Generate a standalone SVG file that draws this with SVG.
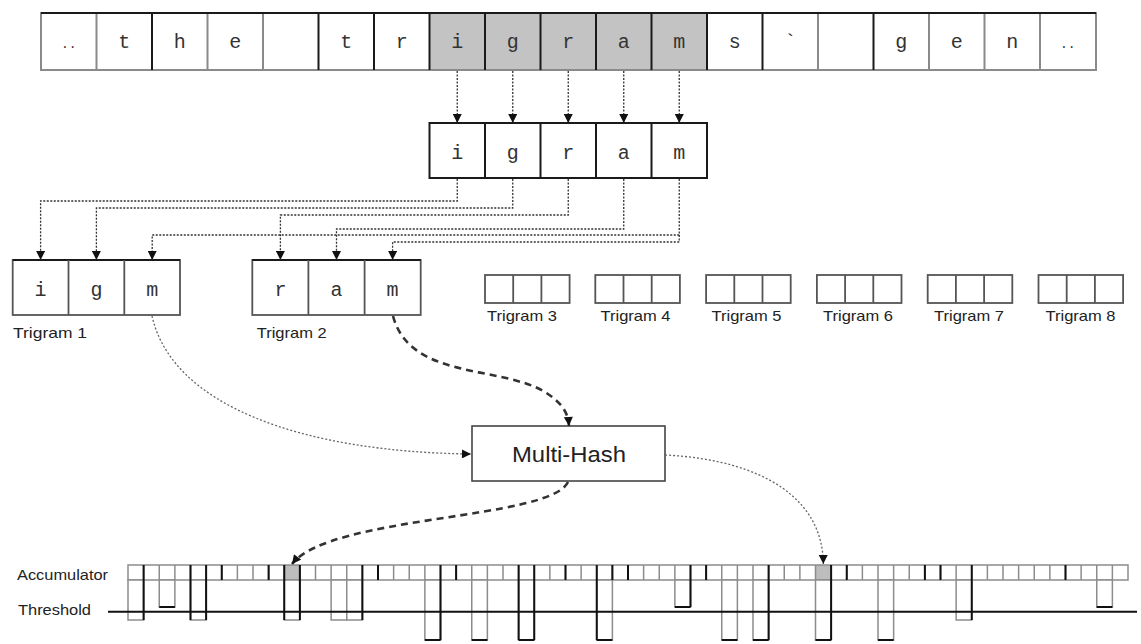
<svg xmlns="http://www.w3.org/2000/svg" width="1141" height="644" viewBox="0 0 1141 644">
<defs>
<marker id="ah" viewBox="0 0 10 10" refX="10" refY="5" markerWidth="10" markerHeight="9" markerUnits="userSpaceOnUse" orient="auto">
<path d="M0,0 L10,5 L0,10 z" fill="#111"/>
</marker>
<style>
.mono{font-family:"Liberation Mono","Courier New",monospace;font-size:20px;fill:#333;text-anchor:middle}
.lab{font-family:"Liberation Sans",Arial,sans-serif;font-size:15px;fill:#222}
.lt{stroke:#8a8a8a;stroke-width:2;fill:none}
.dk{stroke:#1a1a1a;stroke-width:2;fill:none}
.cellbox{fill:#fff;stroke:#555;stroke-width:1.8}
.dot{fill:none;stroke:#333;stroke-width:1.3;stroke-dasharray:2 1.5}
.dotc{fill:none;stroke:#666;stroke-width:1.3;stroke-dasharray:2 2}
.dash{fill:none;stroke:#333;stroke-width:2.6;stroke-dasharray:7 5}
.acc{stroke:#8c8c8c;stroke-width:1.5;fill:none}
.accd{stroke:#111;stroke-width:2;fill:none}
.bar{fill:#fff;stroke:#8c8c8c;stroke-width:1.5}
</style>
</defs>
<rect width="1141" height="644" fill="#fff"/>

<g id="sentence">
<rect x="41" y="13" width="1055" height="57" fill="#fff"/>
<rect x="429.5" y="13" width="277.5" height="57" fill="#c3c3c3"/>
<rect x="41" y="13" width="1055" height="57" class="lt"/>
<path class="lt" d="M96.5,13V70 M207.5,13V70 M263,13V70 M818,13V70 M929,13V70 M984.5,13V70 M1040,13V70"/>
<path class="dk" d="M152,13V70 M318.5,13V70 M374,13V70 M429.5,13V70 M485,13V70 M540.5,13V70 M596,13V70 M651.5,13V70 M707,13V70 M762.5,13V70 M873.5,13V70"/>
<path class="dk" d="M41,13H1096"/>
<text class="mono" x="68.75" y="48" style="font-size:13px">..</text>
<text class="mono" x="124.25" y="48">t</text>
<text class="mono" x="179.75" y="48">h</text>
<text class="mono" x="235.25" y="48">e</text>
<text class="mono" x="346.25" y="48">t</text>
<text class="mono" x="401.75" y="48">r</text>
<text class="mono" x="457.25" y="48">i</text>
<text class="mono" x="512.75" y="48">g</text>
<text class="mono" x="568.25" y="48">r</text>
<text class="mono" x="623.75" y="48">a</text>
<text class="mono" x="679.25" y="48">m</text>
<text class="mono" x="734.75" y="48">s</text>
<text class="mono" x="790.25" y="48">`</text>
<text class="mono" x="901.25" y="48">g</text>
<text class="mono" x="956.75" y="48">e</text>
<text class="mono" x="1012.25" y="48">n</text>
<text class="mono" x="1067.75" y="48" style="font-size:13px">..</text>
</g>

<g id="igram">
<rect x="429.5" y="123" width="277.5" height="55" fill="#fff" class="dk"/>
<path class="dk" d="M485,123V178 M540.5,123V178 M596,123V178 M651.5,123V178"/>
<text class="mono" x="457.25" y="159">i</text>
<text class="mono" x="512.75" y="159">g</text>
<text class="mono" x="568.25" y="159">r</text>
<text class="mono" x="623.75" y="159">a</text>
<text class="mono" x="679.25" y="159">m</text>
</g>

<g id="trigram1">
<rect x="12.7" y="260" width="167.3" height="55" class="cellbox"/>
<path d="M12.7,260H180" class="dk"/>
<path d="M68.5,260V315 M124.3,260V315" class="cellbox"/>
<text class="mono" x="40.6" y="296">i</text>
<text class="mono" x="96.4" y="296">g</text>
<text class="mono" x="152.2" y="296">m</text>
<text class="lab" x="13" y="338" textLength="74" lengthAdjust="spacingAndGlyphs">Trigram 1</text>
</g>

<g id="trigram2">
<rect x="252.3" y="260" width="168.4" height="55" class="cellbox"/>
<path d="M252.3,260H420.7" class="dk"/>
<path d="M308.4,260V315 M364.6,260V315" class="cellbox"/>
<text class="mono" x="280.4" y="296">r</text>
<text class="mono" x="336.5" y="296">a</text>
<text class="mono" x="392.6" y="296">m</text>
<text class="lab" x="256.7" y="338" textLength="70" lengthAdjust="spacingAndGlyphs">Trigram 2</text>
</g>

<g id="trigram3">
<rect x="485" y="275" width="84.6" height="28" class="cellbox"/>
<path d="M513.2,275V303 M541.4,275V303" class="cellbox"/>
<text class="lab" x="487" y="321" textLength="70" lengthAdjust="spacingAndGlyphs">Trigram 3</text>
</g>
<g id="trigram4">
<rect x="595.3" y="275" width="84.6" height="28" class="cellbox"/>
<path d="M623.5,275V303 M651.7,275V303" class="cellbox"/>
<text class="lab" x="600.5" y="321" textLength="70" lengthAdjust="spacingAndGlyphs">Trigram 4</text>
</g>
<g id="trigram5">
<rect x="706.1" y="275" width="84.6" height="28" class="cellbox"/>
<path d="M734.3,275V303 M762.5,275V303" class="cellbox"/>
<text class="lab" x="711.5" y="321" textLength="70" lengthAdjust="spacingAndGlyphs">Trigram 5</text>
</g>
<g id="trigram6">
<rect x="816.9" y="275" width="84.6" height="28" class="cellbox"/>
<path d="M845.1,275V303 M873.3,275V303" class="cellbox"/>
<text class="lab" x="823" y="321" textLength="70" lengthAdjust="spacingAndGlyphs">Trigram 6</text>
</g>
<g id="trigram7">
<rect x="927.7" y="275" width="84.6" height="28" class="cellbox"/>
<path d="M955.9,275V303 M984.1,275V303" class="cellbox"/>
<text class="lab" x="934" y="321" textLength="70" lengthAdjust="spacingAndGlyphs">Trigram 7</text>
</g>
<g id="trigram8">
<rect x="1038.5" y="275" width="84.6" height="28" class="cellbox"/>
<path d="M1066.7,275V303 M1094.9,275V303" class="cellbox"/>
<text class="lab" x="1045.5" y="321" textLength="70" lengthAdjust="spacingAndGlyphs">Trigram 8</text>
</g>

<g id="multihash">
<rect x="472" y="426" width="193" height="55" fill="#fff" stroke="#444" stroke-width="1.6"/>
<text x="569" y="462" text-anchor="middle" style="font-family:'Liberation Sans',Arial,sans-serif;font-size:22px;fill:#222" textLength="114" lengthAdjust="spacingAndGlyphs">Multi-Hash</text>
</g>

<g id="accumulator">
<text class="lab" x="17" y="580" textLength="91" lengthAdjust="spacingAndGlyphs">Accumulator</text>
<text class="lab" x="18" y="615" textLength="73" lengthAdjust="spacingAndGlyphs">Threshold</text>
<rect x="128" y="565" width="1000" height="15" fill="#fff"/>
<rect x="284.25" y="565" width="15.625" height="15" fill="#bdbdbd"/>
<rect x="815.5" y="565" width="15.625" height="15" fill="#bdbdbd"/>
<path class="acc" d="M143.625,565V580 M159.25,565V580 M174.875,565V580 M190.5,565V580 M206.125,565V580 M221.75,565V580 M237.375,565V580 M253,565V580 M268.625,565V580 M284.25,565V580 M299.875,565V580 M315.5,565V580 M331.125,565V580 M346.75,565V580 M362.375,565V580 M378,565V580 M393.625,565V580 M409.25,565V580 M424.875,565V580 M440.5,565V580 M456.125,565V580 M471.75,565V580 M487.375,565V580 M503,565V580 M518.625,565V580 M534.25,565V580 M549.875,565V580 M565.5,565V580 M581.125,565V580 M596.75,565V580 M612.375,565V580 M628,565V580 M643.625,565V580 M659.25,565V580 M674.875,565V580 M690.5,565V580 M706.125,565V580 M721.75,565V580 M737.375,565V580 M753,565V580 M768.625,565V580 M784.25,565V580 M799.875,565V580 M815.5,565V580 M831.125,565V580 M846.75,565V580 M862.375,565V580 M878,565V580 M893.625,565V580 M909.25,565V580 M924.875,565V580 M940.5,565V580 M956.125,565V580 M971.75,565V580 M987.375,565V580 M1003,565V580 M1018.625,565V580 M1034.25,565V580 M1049.875,565V580 M1065.5,565V580 M1081.125,565V580 M1096.75,565V580 M1112.375,565V580"/>
<rect x="128" y="565" width="1000" height="15" class="acc"/>
<g id="bars">
<rect class="bar" x="128" y="580" width="15.625" height="40"/>
<rect class="bar" x="159.25" y="580" width="15.625" height="27"/>
<rect class="bar" x="190.5" y="580" width="15.625" height="40"/>
<rect class="bar" x="284.25" y="580" width="15.625" height="40"/>
<rect class="bar" x="331.125" y="580" width="15.625" height="40"/>
<rect class="bar" x="346.75" y="580" width="15.625" height="40"/>
<rect class="bar" x="424.875" y="580" width="15.625" height="60"/>
<rect class="bar" x="471.75" y="580" width="15.625" height="60"/>
<rect class="bar" x="518.625" y="580" width="15.625" height="60"/>
<rect class="bar" x="596.75" y="580" width="15.625" height="60"/>
<rect class="bar" x="674.875" y="580" width="15.625" height="27"/>
<rect class="bar" x="721.75" y="580" width="15.625" height="60"/>
<rect class="bar" x="753" y="580" width="15.625" height="60"/>
<rect class="bar" x="815.5" y="580" width="15.625" height="60"/>
<rect class="bar" x="878" y="580" width="15.625" height="60"/>
<rect class="bar" x="956.125" y="580" width="15.625" height="40"/>
<rect class="bar" x="1096.75" y="580" width="15.625" height="27"/>
</g>
<path class="accd" d="M143.625,565V620 M190.5,565V620 M206.125,565V620 M284.25,565V620 M299.875,565V620 M362.375,565V620 M440.5,565V640 M518.625,565V640 M534.25,565V640 M596.75,565V640 M690.5,565V607 M768.625,565V640 M831.125,565V640 M971.75,565V620"/>
<path class="accd" d="M221.75,565V580 M268.625,565V580 M378,565V580 M456.125,565V580 M565.5,565V580 M612.375,565V580 M628,565V580 M706.125,565V580 M846.75,565V580 M924.875,565V580 M940.5,565V580 M1065.5,565V580"/>
<path class="accd" d="M159.25,607H174.875 M674.875,607H690.5 M1096.75,607H1112.375 M424.875,640H440.5 M471.75,640H487.375 M518.625,640H534.25 M596.75,640H612.375 M721.75,640H737.375 M753,640H768.625 M815.5,640H831.125 M878,640H893.625"/>
<path d="M108,611.7H1137" stroke="#111" stroke-width="2"/>
</g>

<g id="connectors">
<path class="dot" d="M457.25,71V123" marker-end="url(#ah)"/>
<path class="dot" d="M512.75,71V123" marker-end="url(#ah)"/>
<path class="dot" d="M568.25,71V123" marker-end="url(#ah)"/>
<path class="dot" d="M623.75,71V123" marker-end="url(#ah)"/>
<path class="dot" d="M679.25,71V123" marker-end="url(#ah)"/>
<path class="dot" d="M457.25,179V201H40.6V260" marker-end="url(#ah)"/>
<path class="dot" d="M512.75,179V208H96.4V260" marker-end="url(#ah)"/>
<path class="dot" d="M568.25,179V215H280.4V260" marker-end="url(#ah)"/>
<path class="dot" d="M623.75,179V229H336.5V260" marker-end="url(#ah)"/>
<path class="dot" d="M679.25,179V235H152.2V260" marker-end="url(#ah)"/>
<path class="dot" d="M679.25,235V242H392.6V260" marker-end="url(#ah)"/>
<path class="dotc" d="M152,316C172,405 300,452 471,454" marker-end="url(#ah)"/>
<path class="dash" d="M393,316C410,380 500,365 545,392C562,403 568,412 569,426" marker-end="url(#ah)"/>
<path class="dash" d="M568,482C550,520 330,515 292,564" marker-end="url(#ah)"/>
<path class="dotc" d="M665,455C765,460 823,500 823.3,564" marker-end="url(#ah)"/>
</g>
</svg>
